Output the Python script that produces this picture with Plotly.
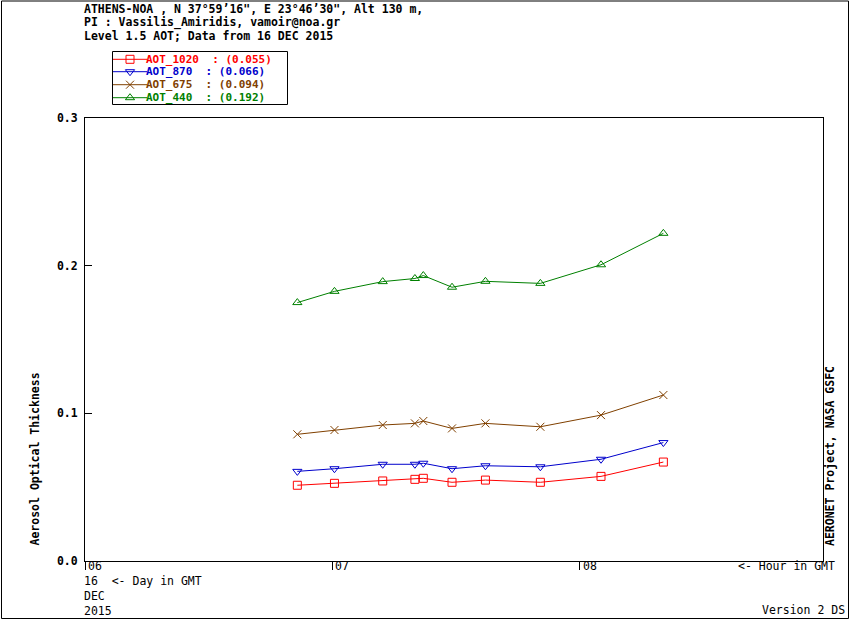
import plotly.graph_objects as go

# AERONET Athens-NOA, level 1.5 AOT, 16 DEC 2015 (hours GMT)
HOURS = [6.858, 7.008, 7.203, 7.333, 7.367, 7.483, 7.618, 7.840, 8.085, 8.337]
AOT_1020 = [0.0513, 0.0526, 0.0542, 0.0553, 0.0560, 0.0533, 0.0548, 0.0533, 0.0573, 0.0670]
AOT_870 = [0.0607, 0.0625, 0.0655, 0.0655, 0.0662, 0.0625, 0.0645, 0.0638, 0.0689, 0.0802]
AOT_675 = [0.0858, 0.0887, 0.0921, 0.0932, 0.0948, 0.0898, 0.0932, 0.0909, 0.0988, 0.1124]
AOT_440 = [0.1750, 0.1826, 0.1892, 0.1913, 0.1933, 0.1854, 0.1894, 0.1880, 0.2006, 0.2219]

SERIES_NAMES = ["AOT_1020", "AOT_870", "AOT_675", "AOT_440"]
SERIES_MEANS = ["0.055", "0.066", "0.094", "0.192"]
SERIES_VALUES = [AOT_1020, AOT_870, AOT_675, AOT_440]

HOUR_TICKS = [6, 7, 8]
HOUR_LABELS = ["06", "07", "08"]
AOT_TICKS = [0.0, 0.1, 0.2, 0.3]

HEADER = [
    "ATHENS-NOA , N 37°59’16\", E 23°46’30\", Alt 130 m,",
    "PI : Vassilis_Amiridis, vamoir@noa.gr",
    "Level 1.5 AOT; Data from 16 DEC 2015",
]

COLORS = ["#ff0000", "#0000cc", "#804000", "#008000"]
SYMBOLS = ["square-open", "triangle-down-open", "x-thin-open", "triangle-up-open"]

W, H = 850, 620
FONT = "DejaVu Sans Mono"
FS = 11.5


def px(x):
    return x / W


def py(y):
    return 1 - y / H


def nb(s):
    # keep runs of spaces in svg text
    return s.replace(" ", "\u00a0")


fig = go.Figure()

for name, vals, col, sym in zip(SERIES_NAMES, SERIES_VALUES, COLORS, SYMBOLS):
    fig.add_trace(go.Scatter(
        x=HOURS, y=vals, name=name, mode="lines+markers",
        line=dict(color=col, width=1),
        marker=dict(symbol=sym, size=8, color=col, line=dict(color=col, width=1)),
        showlegend=False))

# hand-made legend box (overlay axes in pixel units)
legend_rows = [59.3, 71.7, 84.7, 97.7]
for i, (name, mean, col, sym) in enumerate(zip(SERIES_NAMES, SERIES_MEANS, COLORS, SYMBOLS)):
    yrow = legend_rows[i]
    fig.add_shape(type="line", xref="x2", yref="y2", x0=113, x1=147, y0=yrow, y1=yrow,
                  line=dict(color=col, width=1))
    fig.add_trace(go.Scatter(
        x=[130], y=[yrow], xaxis="x2", yaxis="y2", mode="markers",
        marker=dict(symbol=sym, size=8, color=col, line=dict(color=col, width=1)),
        showlegend=False, hoverinfo="skip"))
    fig.add_annotation(x=px(145), y=py(yrow), xref="paper", yref="paper",
                       text=nb(f"{name}  : ({mean})"), showarrow=False,
                       xanchor="left", yanchor="middle", borderpad=0,
                       font=dict(family=FONT, size=11, color=col, weight="bold"))
fig.add_shape(type="rect", xref="x2", yref="y2", x0=112.5, x1=287.5, y0=51.5, y1=104.5,
              line=dict(color="black", width=1))

# outer frame
fig.add_shape(type="rect", xref="x2", yref="y2", x0=1.5, x1=848.5, y0=1, y1=618.5,
              line=dict(color="black", width=1))

for i, line in enumerate(HEADER):
    fig.add_annotation(x=px(82), y=py(9 + 13.5 * i), xref="paper", yref="paper",
                       text=nb(line), showarrow=False,
                       xanchor="left", yanchor="middle",
                       font=dict(family=FONT, size=FS, color="black", weight="bold"))

for h, lab in zip(HOUR_TICKS, HOUR_LABELS):
    fig.add_annotation(x=h, y=py(566), xref="x", yref="paper", text=lab,
                       showarrow=False, xanchor="left", yanchor="middle", xshift=1,
                       font=dict(family=FONT, size=FS, color="black"))

fig.add_annotation(x=px(837), y=py(566), xref="paper", yref="paper",
                   text=nb("<- Hour in GMT"), showarrow=False,
                   xanchor="right", yanchor="middle",
                   font=dict(family=FONT, size=FS, color="black"))
for yv, txt in [(581, "16  <- Day in GMT"), (596, "DEC"), (611, "2015")]:
    fig.add_annotation(x=px(82), y=py(yv), xref="paper", yref="paper", text=nb(txt),
                       showarrow=False, xanchor="left", yanchor="middle",
                       font=dict(family=FONT, size=FS, color="black"))
fig.add_annotation(x=px(847), y=py(610), xref="paper", yref="paper",
                   text=nb("Version 2 DS"), showarrow=False,
                   xanchor="right", yanchor="middle",
                   font=dict(family=FONT, size=FS, color="black"))

fig.add_annotation(x=px(34), y=py(548), xref="paper", yref="paper",
                   text=nb("Aerosol Optical Thickness"), textangle=-90,
                   showarrow=False, xanchor="center", yanchor="bottom",
                   font=dict(family=FONT, size=FS, color="black", weight="bold"))
fig.add_annotation(x=px(830), y=py(548), xref="paper", yref="paper",
                   text=nb("AERONET Project, NASA GSFC"), textangle=-90,
                   showarrow=False, xanchor="center", yanchor="bottom",
                   font=dict(family=FONT, size=FS, color="black", weight="bold"))

fig.update_layout(
    width=W, height=H,
    template="none",
    margin=dict(l=0, r=0, t=0, b=0, pad=0),
    paper_bgcolor="white", plot_bgcolor="rgba(0,0,0,0)",
    font=dict(family=FONT, size=FS, color="black"),
    xaxis=dict(domain=[px(85), px(823)], range=[6, 8.982],
               tickvals=HOUR_TICKS, showticklabels=False,
               ticks="outside", ticklen=8, tickcolor="black", tickwidth=1,
               showline=True, linecolor="black", linewidth=1, mirror=True,
               showgrid=False, zeroline=False, fixedrange=True, automargin=False),
    yaxis=dict(domain=[py(561), py(118)], range=[0, 0.3],
               tickvals=AOT_TICKS, tickformat=".1f",
               ticks="inside", ticklen=7, tickcolor="black", tickwidth=1,
               tickfont=dict(family=FONT, size=FS, color="black", weight="bold"),
               ticklabelstandoff=4,
               showline=True, linecolor="black", linewidth=1, mirror=True,
               showgrid=False, zeroline=False, fixedrange=True, automargin=False),
    xaxis2=dict(domain=[0, 1], range=[0, W], visible=False, anchor="y2",
                fixedrange=True, automargin=False),
    yaxis2=dict(domain=[0, 1], range=[H, 0], visible=False, anchor="x2",
                fixedrange=True, automargin=False),
)

fig.write_html("out.html", config={"displayModeBar": False},
               post_script="document.body.style.margin='0';")
